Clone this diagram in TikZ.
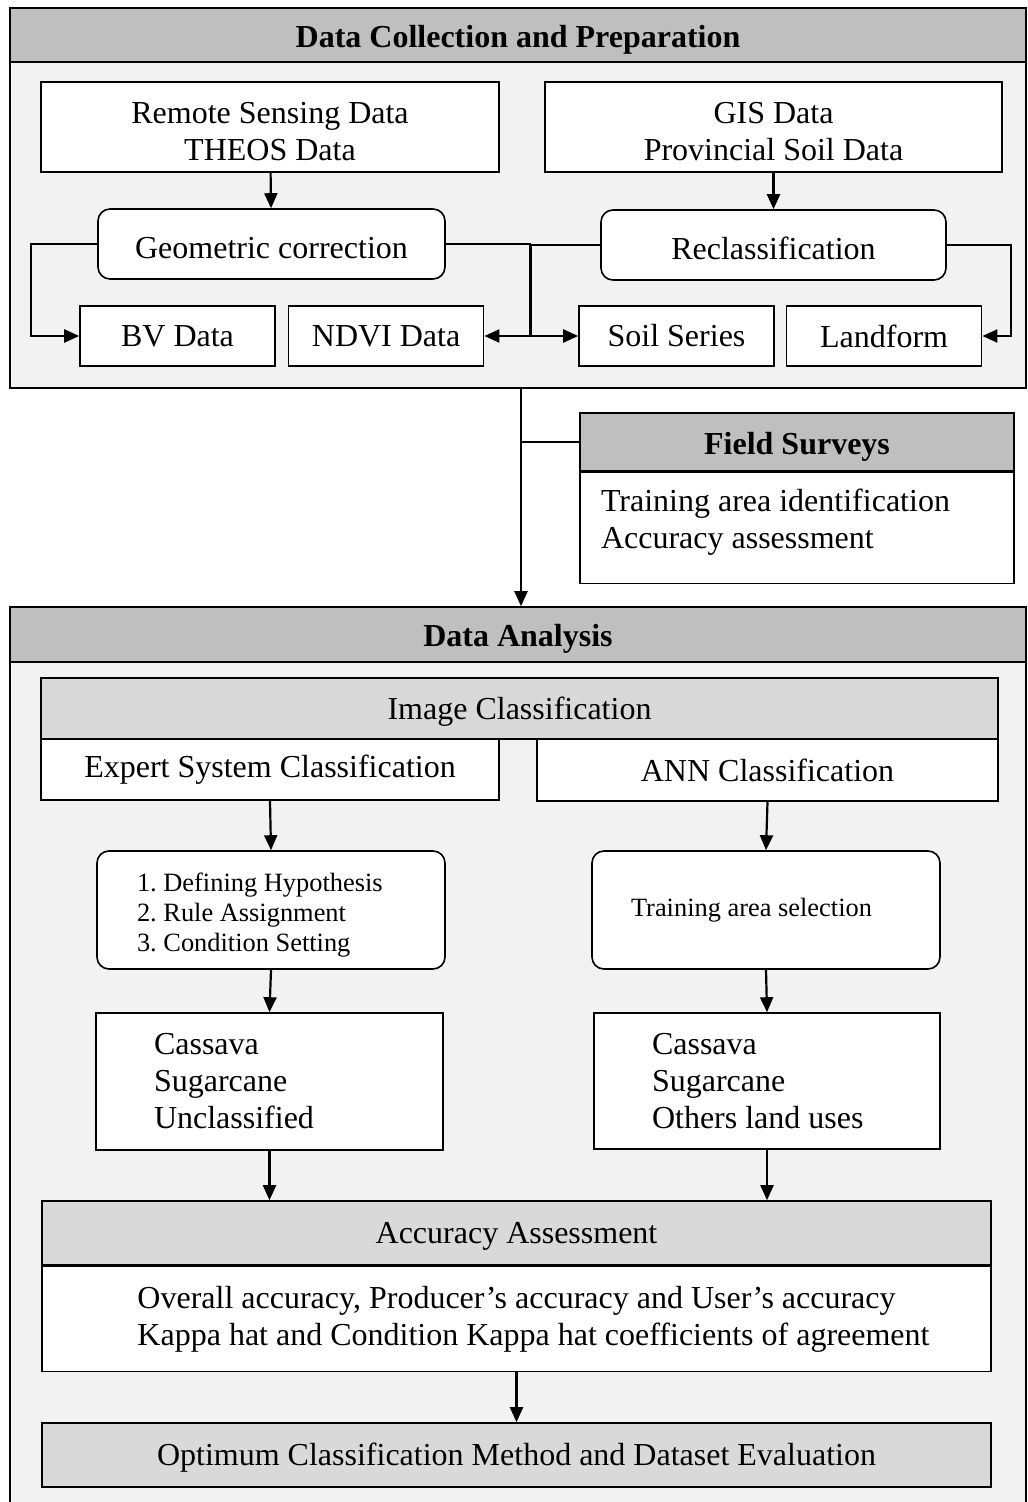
\documentclass[tikz,border=0pt]{standalone}
\usepackage{fontspec}
\setmainfont{Liberation Serif}
\usetikzlibrary{positioning, arrows.meta}
\definecolor{headgray}{HTML}{BFBFBF}
\definecolor{subgray}{HTML}{D9D9D9}
\definecolor{panelgray}{HTML}{F2F2F2}
\tikzset{
  panel/.style={rectangle, draw=black, fill=panelgray, line width=0.8pt, inner sep=0pt},
  lift/.style={execute at begin node={\rule{0pt}{#1}}},
  headbar/.style={rectangle, draw=black, fill=headgray, line width=0.8pt, inner sep=0pt, font=\bfseries\fontsize{16}{18.5}\selectfont, lift=15.5pt},
  subbar/.style={rectangle, draw=black, fill=subgray, line width=0.8pt, inner sep=0pt, lift=14pt},
  box/.style={rectangle, draw=black, fill=white, line width=0.8pt, inner sep=0pt, align=center},
  roundbox/.style={box, rounded corners=6pt},
  arrow/.style={line width=1.1pt, -{Triangle[length=7.5pt, width=6.5pt]}},
  link/.style={line width=1.1pt},
}

\begin{document}
\frenchspacing
\begin{tikzpicture}[x=0.5pt, y=-0.5pt, font=\fontsize{16}{18.5}\selectfont]
  \useasboundingbox (0,0) rectangle (1027,1502);

  % data collection and preparation
  \node[panel, minimum width=508pt, minimum height=190pt] (prep) at (518,198) {};
  \node[headbar, minimum width=508pt, minimum height=27pt, anchor=north] (prephead) at (prep.north) {Data Collection and Preparation};

  \node[box, minimum width=229pt, minimum height=45pt] (remote) at (270,127) {\rule{0pt}{15.5pt}Remote Sensing Data\\THEOS Data};
  \node[box, minimum width=228.5pt, minimum height=45pt] (gis) at (773.5,127) {\rule{0pt}{15.5pt}GIS Data\\Provincial Soil Data};

  \node[roundbox, lift=15pt, minimum width=173.5pt, minimum height=35pt] (geo) at (271.5,244) {Geometric correction};
  \node[roundbox, lift=15pt, minimum width=172.5pt, minimum height=35pt] (reclass) at (773.5,245) {Reclassification};

  \node[box, minimum width=97.5pt, minimum height=30pt] (bv) at (177.5,336) {BV Data};
  \node[box, minimum width=97.5pt, minimum height=30pt, right=6pt of bv] (ndvi) {NDVI Data};
  \node[box, minimum width=97.5pt, minimum height=30pt] (soil) at (676.5,336) {Soil Series};
  \node[box, minimum width=97.5pt, minimum height=30pt, right=5.5pt of soil] (landform) {Landform};

  \draw[arrow] (remote) -- (geo);
  \draw[arrow] (gis) -- (reclass);
  \draw[arrow] (geo.west) -- ++(-66,0) |- (bv.west);
  \draw[arrow] (geo.east) -- ++(84,0) |- (ndvi.east);
  \draw[arrow] (reclass.west) -- ++(-69,0) |- (soil.west);
  \draw[arrow] (reclass.east) -- ++(64,0) |- (landform.east);

  % field surveys
  \node[headbar, minimum width=217pt, minimum height=29pt] (fieldhead) at (797,442) {Field Surveys};
  \node[box, minimum width=217pt, minimum height=55.5pt, text width=196pt, align=flush left, below=0pt of fieldhead] (fieldbody) {Training area identification\\Accuracy assessment\rule[-9.5pt]{0pt}{0pt}};

  % data analysis
  \node[panel, minimum width=508pt, minimum height=448.5pt] (analysis) at (518,1055.5) {};
  \node[headbar, minimum width=508pt, minimum height=27.5pt, anchor=north] (anahead) at (analysis.north) {Data Analysis};

  \draw[arrow] ([xshift=1.5pt]prep.south) -- ([xshift=1.5pt]anahead.north);
  \draw[link] (fieldhead.west) -- ++(-59,0);

  \node[subbar, minimum width=478.5pt, minimum height=30.5pt] (imgclass) at (519.5,708.5) {Image Classification};
  \node[box, minimum width=229pt, minimum height=30.5pt] (expert) at (270,769.5) {Expert System Classification};
  \node[box, minimum width=230.5pt, minimum height=31pt] (ann) at (767.5,770) {ANN Classification};

  \node[roundbox, lift=14pt, minimum width=174pt, minimum height=59pt, text width=134pt, align=flush left, font=\fontsize{13.2}{15}\selectfont] (rules) at (271,910) {1. Defining Hypothesis\\2. Rule Assignment\\3. Condition Setting};
  \node[roundbox, minimum width=174pt, minimum height=59pt, text width=135pt, align=flush left, font=\fontsize{13.2}{15}\selectfont] (training) at (766,910) {Training area selection};

  \node[box, minimum width=173.5pt, minimum height=68.5pt, text width=115.5pt, align=flush left] (cropsexp) at (269.5,1081.5) {Cassava\\Sugarcane\\Unclassified};
  \node[box, minimum width=173pt, minimum height=68pt, text width=115pt, align=flush left] (cropsann) at (767,1081) {Cassava\\Sugarcane\\Others land uses};

  \node[subbar, lift=13.5pt, minimum width=474.5pt, minimum height=32pt] (acchead) at (516.5,1233) {Accuracy Assessment};
  \node[box, minimum width=474.5pt, minimum height=52.5pt, align=flush left, below=0pt of acchead] (accbody) {\hspace*{17pt}Overall accuracy, Producer's accuracy and User's accuracy\\\hspace*{17pt}Kappa hat and Condition Kappa hat coefficients of agreement};
  \node[subbar, lift=13.5pt, minimum width=474.5pt, minimum height=32pt] (optimum) at (516.5,1455) {Optimum Classification Method and Dataset Evaluation};

  \draw[arrow] (expert.south) -- (rules.north);
  \draw[arrow] (ann.south) -- (training.north);
  \draw[arrow] (rules.south) -- (cropsexp.north);
  \draw[arrow] (training.south) -- (cropsann.north);
  \draw[arrow] (cropsexp.south) -- (cropsexp.south |- acchead.north);
  \draw[arrow] (cropsann.south) -- (cropsann.south |- acchead.north);
  \draw[arrow] (accbody) -- (optimum);
\end{tikzpicture}
\end{document}
